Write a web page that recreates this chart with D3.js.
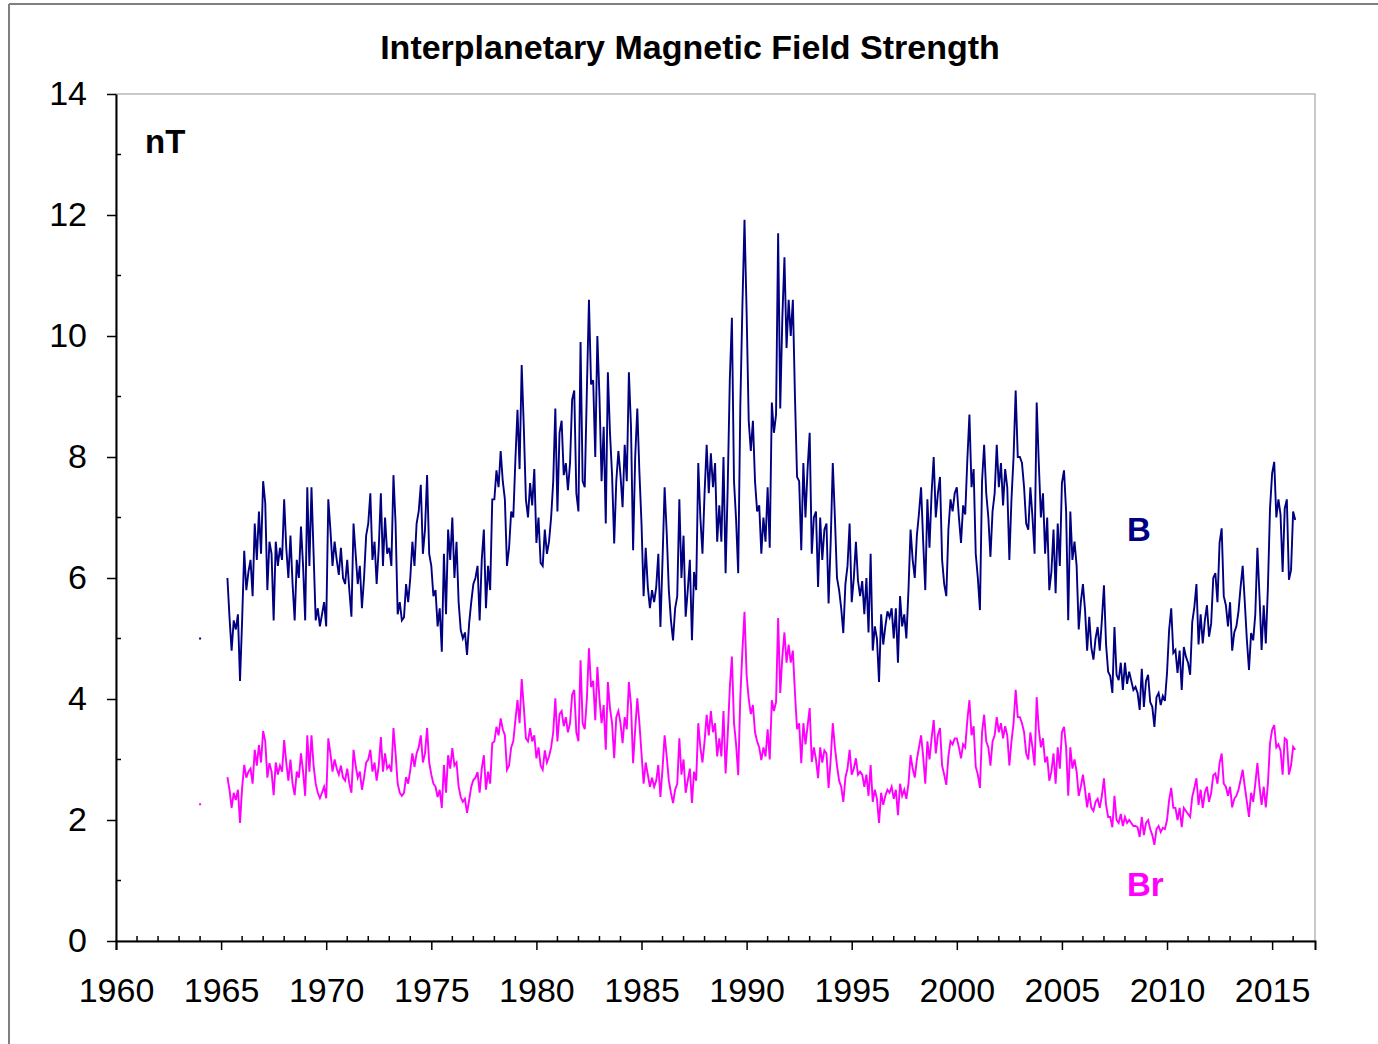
<!DOCTYPE html>
<html>
<head>
<meta charset="utf-8">
<script src="https://cdn.jsdelivr.net/npm/d3@7"></script>
<style>
  html, body { margin: 0; padding: 0; background: #ffffff; }
  svg { display: block; }
  text { font-family: "Liberation Sans", Arial, Helvetica, sans-serif; }
</style>
</head>
<body>
<svg id="chart" width="1378" height="1044"></svg>
<script>
// ---------------- DATA ----------------
const chartTitle = "Interplanetary Magnetic Field Strength";
const unitLabel = "nT";
const seriesNames = ["B", "Br"];
const xTickYears = [1960, 1965, 1970, 1975, 1980, 1985, 1990, 1995, 2000, 2005, 2010, 2015];
const yTickValues = [0, 2, 4, 6, 8, 10, 12, 14];

// first sample time and sampling step (years) of the continuous record
const startYear = 1965.3;
const stepYears = 0.1;

// isolated early value (1964.0)
const isolatedYear = [1964.0];
const isolatedB = [5.0];
const isolatedBr = [2.26];

// Field magnitude B (nT), one value per 0.1 yr from 1965.3
const bValues = [
// 1965.3-1965.9
6.0,5.35,4.8,5.3,5.15,5.4,4.3,
// 1966
5.3,6.45,5.8,6.1,6.3,5.7,6.9,6.3,7.1,6.4,
// 1967
7.6,7.24,5.8,6.6,6.4,5.3,6.6,6.2,6.5,6.3,
// 1968
7.3,6.5,6.0,6.7,5.9,5.3,6.3,6.0,6.85,6.2,
// 1969
5.3,7.5,6.2,7.5,6.4,5.3,5.5,5.2,5.4,5.6,
// 1970
5.2,7.3,6.8,6.2,6.6,6.3,6.05,6.5,6.0,5.9,
// 1971
6.3,5.8,5.36,6.9,6.4,5.9,6.2,5.5,6.0,6.7,
// 1972
6.9,7.4,6.3,6.6,5.9,6.5,7.4,6.2,7.0,6.4,
// 1973
6.5,6.2,7.7,6.9,5.4,5.6,5.3,5.35,5.9,5.6,
// 1974
6.0,6.6,6.2,6.9,7.1,7.54,6.4,6.8,7.7,6.4,
// 1975
6.2,5.7,5.8,5.2,5.5,4.78,6.4,5.4,6.8,6.3,
// 1976
7.0,6.0,6.6,5.6,5.14,5.0,5.1,4.73,5.25,5.6,
// 1977
5.9,6.0,6.2,5.3,6.3,6.8,5.5,6.2,5.8,7.3,
// 1978
7.3,7.78,7.5,8.1,7.6,7.3,6.2,6.5,7.1,7.0,
// 1979
7.95,8.78,7.8,9.52,8.5,7.3,7.0,7.57,7.2,7.8,
// 1980
6.58,7.0,6.25,6.2,6.8,6.4,6.6,7.0,7.6,8.8,
// 1981
7.1,8.4,8.6,7.7,7.9,7.45,7.9,8.95,9.1,7.4,
// 1982
7.1,9.9,7.6,7.5,9.1,10.6,9.2,9.27,8.0,10.0,
// 1983
9.0,7.6,8.5,6.9,9.4,8.4,7.7,6.57,7.6,8.1,
// 1984
7.7,7.17,8.2,7.6,9.4,8.5,6.46,8.0,8.8,7.75,
// 1985
6.9,5.7,6.5,5.85,5.5,5.8,5.6,5.85,6.4,5.19,
// 1986
6.3,7.5,6.74,5.8,5.3,4.97,5.5,5.7,7.3,6.0,
// 1987
6.7,5.36,5.8,6.3,4.97,6.1,5.8,7.9,7.0,6.4,
// 1988
7.4,8.2,7.4,8.06,7.5,7.9,6.6,7.2,6.6,8.0,
// 1989
6.08,7.5,9.27,10.3,7.6,6.96,6.08,8.83,10.5,11.92,
// 1990
10.4,8.6,8.1,8.6,7.6,7.1,7.2,6.4,7.0,6.6,
// 1991
7.5,6.5,8.9,8.4,8.7,11.7,8.8,10.3,11.3,9.8,
// 1992
10.6,10.0,10.6,9.0,7.67,7.6,6.46,7.9,7.0,7.8,
// 1993
8.4,6.4,7.0,7.1,5.85,7.0,6.3,6.8,6.9,5.58,
// 1994
6.6,7.9,7.0,6.0,5.8,5.5,5.09,5.9,6.2,6.9,
// 1995
5.6,6.0,6.6,5.95,5.7,5.95,5.4,6.0,5.1,6.4,
// 1996
4.8,5.2,5.0,4.28,5.4,4.9,5.2,5.45,5.35,5.5,
// 1997
5.0,5.5,4.6,5.7,5.2,5.4,5.0,5.8,6.8,6.3,
// 1998
6.0,6.7,7.07,7.5,6.6,5.8,7.3,6.5,7.4,8.0,
// 1999
7.0,7.4,7.67,6.3,5.9,5.7,6.8,7.3,7.1,7.4,
// 2000
7.5,7.0,6.58,7.2,7.05,7.95,8.7,7.5,7.8,6.4,
// 2001
6.0,5.47,7.6,8.2,7.4,7.0,6.35,7.1,7.4,8.2,
// 2002
7.5,7.9,7.2,7.8,7.5,6.3,7.3,8.0,9.1,8.0,
// 2003
8.0,7.9,7.5,6.9,6.8,7.5,7.0,6.4,8.9,7.9,
// 2004
7.0,7.4,6.4,7.0,5.8,6.1,6.8,5.75,6.9,6.2,
// 2005
7.57,7.78,7.1,5.3,7.1,6.3,6.6,6.2,5.15,5.6,
// 2006
5.9,5.47,4.8,5.36,4.85,4.65,5.0,5.19,4.8,5.3,
// 2007
5.88,4.9,4.45,4.38,4.1,5.19,4.4,4.31,4.6,4.15,
// 2008
4.6,4.25,4.45,4.3,4.15,4.2,4.1,3.82,4.5,3.87,
// 2009
4.3,4.4,3.95,3.87,3.54,4.03,4.1,3.9,4.05,3.97,
// 2010
4.43,5.14,5.5,4.76,4.81,4.43,4.8,4.15,4.86,4.7,
// 2011
4.6,4.4,5.27,5.52,5.9,4.9,5.4,4.92,5.3,5.55,
// 2012
5.03,5.25,6.0,6.08,5.6,6.58,6.82,5.7,5.55,5.2,
// 2013
5.6,4.8,5.1,5.2,5.45,5.85,6.2,5.6,4.97,4.48,
// 2014
5.09,4.97,5.4,6.5,5.7,4.81,5.55,4.92,5.85,7.15,
// 2015
7.73,7.92,7.0,7.3,7.05,6.1,7.15,7.3,5.97,6.13,
// 2016
7.1,6.96
];

// Radial component Br (nT), one value per 0.1 yr from 1965.3
const brValues = [
// 1965.3-1965.9
2.71,2.5,2.2,2.45,2.33,2.5,1.95,
// 1966
2.53,2.91,2.7,2.8,2.85,2.6,3.16,2.9,3.24,2.95,
// 1967
3.47,3.3,2.7,2.94,2.8,2.41,2.95,2.75,2.9,2.8,
// 1968
3.32,2.95,2.65,3.0,2.6,2.41,2.8,2.7,3.1,2.8,
// 1969
2.4,3.4,2.8,3.4,2.9,2.6,2.45,2.36,2.45,2.55,
// 1970
2.36,3.35,3.1,2.8,3.0,2.85,2.75,2.9,2.7,2.65,
// 1971
2.85,2.6,2.45,3.16,2.9,2.7,2.8,2.5,2.7,2.95,
// 1972
3.0,3.16,2.8,2.95,2.65,2.9,3.37,2.8,3.1,2.85,
// 1973
2.9,2.8,3.52,3.1,2.6,2.45,2.4,2.45,2.71,2.6,
// 1974
2.83,3.1,2.88,3.1,3.2,3.4,2.95,3.1,3.52,2.95,
// 1975
2.75,2.6,2.55,2.38,2.5,2.2,2.91,2.45,3.07,2.85,
// 1976
3.19,2.9,2.95,2.55,2.38,2.3,2.35,2.12,2.33,2.55,
// 1977
2.66,2.7,2.79,2.45,2.85,3.07,2.5,2.8,2.6,3.27,
// 1978
3.3,3.54,3.4,3.68,3.5,3.4,2.83,2.9,3.2,3.3,
// 1979
3.65,3.98,3.6,4.33,3.87,3.35,3.3,3.52,3.3,3.4,
// 1980
3.02,3.2,2.9,2.83,3.15,2.95,3.05,3.2,3.45,4.01,
// 1981
3.3,3.75,3.8,3.55,3.7,3.45,3.6,4.07,4.15,3.45,
// 1982
3.3,4.64,3.6,3.5,4.0,4.84,4.2,4.3,3.65,4.53,
// 1983
4.0,3.6,3.9,3.16,4.28,3.85,3.6,3.02,3.7,3.8,
// 1984
3.6,3.27,3.7,3.5,4.28,3.9,2.94,3.5,4.01,3.6,
// 1985
3.1,2.6,2.95,2.75,2.55,2.7,2.55,2.65,2.91,2.38,
// 1986
2.85,3.4,3.05,2.65,2.45,2.28,2.5,2.6,3.35,2.75,
// 1987
3.0,2.45,2.65,2.85,2.28,2.8,2.65,3.6,3.2,2.95,
// 1988
3.3,3.74,3.4,3.8,3.45,3.6,3.05,3.35,3.05,3.8,
// 1989
2.77,3.4,4.18,4.7,3.6,3.25,2.74,4.03,4.8,5.44,
// 1990
4.4,4.0,3.75,3.9,3.45,3.3,3.2,2.99,3.2,3.05,
// 1991
3.5,3.0,3.98,3.8,3.95,5.34,4.1,4.7,5.1,4.6,
// 1992
4.9,4.6,4.8,4.1,3.5,3.6,2.94,3.6,3.25,3.55,
// 1993
3.85,2.96,3.2,3.0,2.69,3.2,2.95,3.15,3.1,2.53,
// 1994
3.0,3.6,3.2,2.9,2.65,2.55,2.3,2.7,2.85,3.16,
// 1995
2.75,2.85,3.02,2.75,2.8,2.75,2.55,2.75,2.4,2.91,
// 1996
2.3,2.5,2.35,1.95,2.45,2.25,2.4,2.5,2.45,2.55,
// 1997
2.35,2.5,2.08,2.6,2.4,2.5,2.35,2.6,3.07,2.85,
// 1998
2.7,3.0,3.2,3.4,3.05,2.6,3.3,3.0,3.35,3.65,
// 1999
3.1,3.4,3.52,2.9,2.75,2.58,3.05,3.3,3.25,3.35,
// 2000
3.35,3.2,3.02,3.25,3.2,3.65,3.98,3.4,3.55,2.88,
// 2001
2.75,2.53,3.45,3.74,3.3,3.2,2.9,3.3,3.4,3.7,
// 2002
3.45,3.6,3.35,3.55,3.4,2.9,3.3,3.6,4.15,3.7,
// 2003
3.7,3.6,3.45,3.1,3.0,3.45,3.2,2.9,4.03,3.5,
// 2004
3.2,3.35,2.95,3.05,2.65,2.8,3.1,2.6,3.2,2.85,
// 2005
3.45,3.54,3.2,2.4,3.2,2.85,3.0,2.8,2.4,2.55,
// 2006
2.75,2.5,2.21,2.45,2.2,2.15,2.3,2.35,2.2,2.4,
// 2007
2.69,2.25,2.05,2.05,1.88,2.4,2.0,1.95,2.1,1.9,
// 2008
2.05,1.95,2.0,1.95,1.9,1.9,1.88,1.72,2.05,1.75,
// 2009
1.95,2.0,1.85,1.75,1.59,1.85,1.9,1.8,1.87,1.85,
// 2010
2.0,2.33,2.53,2.2,2.2,2.0,2.2,1.88,2.2,2.15,
// 2011
2.1,2.05,2.38,2.53,2.69,2.25,2.5,2.2,2.45,2.55,
// 2012
2.3,2.45,2.74,2.77,2.6,2.94,3.1,2.6,2.55,2.4,
// 2013
2.55,2.21,2.35,2.4,2.5,2.66,2.83,2.55,2.3,2.05,
// 2014
2.45,2.3,2.6,2.94,2.55,2.25,2.55,2.21,2.6,3.27,
// 2015
3.49,3.57,3.2,3.25,3.15,2.75,3.35,3.32,2.75,2.9,
// 2016
3.21,3.16
];

const colorB = "#000080";
const colorBr = "#ff00ff";

// ---------------- CHART ----------------
const svg = d3.select("#chart");
const W = 1378, H = 1044;
const plot = { left: 116, right: 1315, top: 94, bottom: 941 };

// outer frame
svg.append("line").attr("x1", 9).attr("y1", 4).attr("x2", W).attr("y2", 4)
  .attr("stroke", "#7f7f7f").attr("stroke-width", 2);
svg.append("line").attr("x1", 9).attr("y1", 4).attr("x2", 9).attr("y2", H)
  .attr("stroke", "#7f7f7f").attr("stroke-width", 2);

const x = d3.scaleLinear().domain([1960, 2017.04]).range([plot.left, plot.right]);
const y = d3.scaleLinear().domain([0, 14]).range([plot.bottom, plot.top]);

// plot area border (grey)
svg.append("rect")
  .attr("x", plot.left).attr("y", plot.top)
  .attr("width", plot.right - plot.left).attr("height", plot.bottom - plot.top)
  .attr("fill", "none").attr("stroke", "#a6a6a6").attr("stroke-width", 1.2);

// series
const bData = bValues.map((v, i) => ({ year: startYear + i * stepYears, value: v }));
const brData = brValues.map((v, i) => ({ year: startYear + i * stepYears, value: v }));

const line = d3.line().x(d => x(d.year)).y(d => y(d.value));

svg.append("path").datum(brData)
  .attr("d", line).attr("fill", "none")
  .attr("stroke", colorBr).attr("stroke-width", 1.9).attr("stroke-linejoin", "miter");
svg.append("path").datum(bData)
  .attr("d", line).attr("fill", "none")
  .attr("stroke", colorB).attr("stroke-width", 1.9).attr("stroke-linejoin", "miter");

// isolated points
svg.selectAll("rect.isoB").data(isolatedYear).enter().append("rect")
  .attr("x", (d) => x(d) - 1).attr("y", (d, i) => y(isolatedB[i]) - 1)
  .attr("width", 2).attr("height", 2).attr("fill", colorB);
svg.selectAll("rect.isoBr").data(isolatedYear).enter().append("rect")
  .attr("x", (d) => x(d) - 1).attr("y", (d, i) => y(isolatedBr[i]) - 1)
  .attr("width", 2).attr("height", 2).attr("fill", colorBr);

// axes: y
const yAxis = d3.axisLeft(y).tickValues(yTickValues).tickSize(9).tickSizeOuter(0).tickPadding(20)
  .tickFormat(d3.format("d"));
const gy = svg.append("g").attr("transform", `translate(${plot.left},0)`).call(yAxis);
gy.select(".domain").attr("stroke", "#000").attr("stroke-width", 2);
gy.selectAll(".tick line").attr("stroke", "#000").attr("stroke-width", 1.5);
gy.selectAll(".tick text").attr("font-size", 34).attr("fill", "#000")
  .attr("font-family", "Liberation Sans, Arial, sans-serif");

// y minor ticks (inside)
const yMinor = d3.range(1, 14, 2);
svg.selectAll("line.yminor").data(yMinor).enter().append("line")
  .attr("x1", plot.left).attr("x2", plot.left + 5)
  .attr("y1", d => y(d)).attr("y2", d => y(d))
  .attr("stroke", "#000").attr("stroke-width", 1.5);

// axes: x
const xAxis = d3.axisBottom(x).tickValues(xTickYears).tickSize(9).tickPadding(28)
  .tickFormat(d3.format("d"));
const gx = svg.append("g").attr("transform", `translate(0,${plot.bottom})`).call(xAxis);
gx.select(".domain").attr("stroke", "#000").attr("stroke-width", 2);
gx.selectAll(".tick line").attr("stroke", "#000").attr("stroke-width", 1.5);
gx.selectAll(".tick text").attr("font-size", 34).attr("fill", "#000")
  .attr("font-family", "Liberation Sans, Arial, sans-serif");

// x minor ticks (inside, every year)
const xMinor = d3.range(1961, 2017).filter(yr => yr % 5 !== 0);
svg.selectAll("line.xminor").data(xMinor).enter().append("line")
  .attr("x1", d => x(d)).attr("x2", d => x(d))
  .attr("y1", plot.bottom).attr("y2", plot.bottom - 5)
  .attr("stroke", "#000").attr("stroke-width", 1.5);

// title
svg.append("text").attr("x", 690).attr("y", 59).attr("text-anchor", "middle")
  .attr("font-size", 34).attr("font-weight", "bold").attr("fill", "#000")
  .text(chartTitle);

// unit label
svg.append("text").attr("x", 145).attr("y", 153)
  .attr("font-size", 33).attr("font-weight", "bold").attr("fill", "#000")
  .text(unitLabel);

// series labels
svg.append("text").attr("x", 1127).attr("y", 541)
  .attr("font-size", 33).attr("font-weight", "bold").attr("fill", colorB)
  .text(seriesNames[0]);
svg.append("text").attr("x", 1127).attr("y", 896)
  .attr("font-size", 33).attr("font-weight", "bold").attr("fill", colorBr)
  .text(seriesNames[1]);
</script>
</body>
</html>
